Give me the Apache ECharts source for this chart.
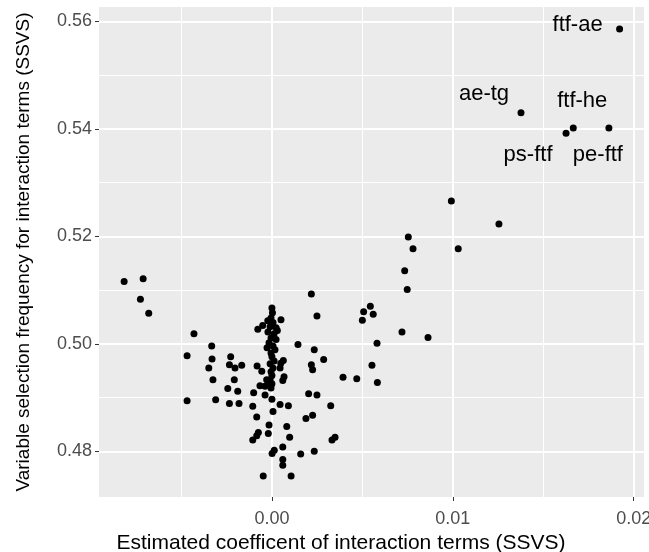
<!DOCTYPE html>
<html>
<head>
<meta charset="utf-8">
<script src="https://cdn.jsdelivr.net/npm/echarts@6/dist/echarts.min.js"></script>
<style>
  html, body { margin: 0; padding: 0; background: #fff; }
  #chart { width: 649px; height: 552px; }
</style>
</head>
<body>
<div id="chart"></div>
<script>
// estimated coefficient (x) and selection frequency (y)
var coefX = [
  -0.00817, -0.00712, -0.00727, -0.00681, -0.00431, -0.00469, -0.00469, -0.00333, -0.00331, -0.00349,
  -0.00326, -0.00311, -0.00228, -0.00235, -0.00204, -0.00167, -0.00208, -0.00244, -0.00189, -0.00235,
  -0.00182, -0.00101, -0.00106, -0.00084, -0.00075, -0.00084, -0.00106, -0.00020, -0.00016, 0.00001,
  0.00013, 0.00060, 0.00060, 0.00060, -0.00048, 0.00106, 0.00006, 0.00045, 0.00091, 0.00000,
  -0.00038, -0.00082, -0.00056, -0.00066, -0.00038, -0.00010, 0.00050, -0.00078, -0.00051, -0.00023,
  0.00030, 0.00063, 0.00045, 0.00067, 0.00060, 0.00082, 0.00098, 0.00780, 0.01030, 0.00734,
  0.00748, 0.00218, 0.00544, 0.00507, 0.00560, 0.00500, 0.00249, 0.00719, 0.00863, 0.00581,
  0.00144, 0.00234, 0.00286, 0.00218, 0.00225, 0.00553, 0.00393, 0.00469, 0.00583, 0.00203,
  0.00249, 0.00325, 0.00225, 0.00188, 0.00332, 0.00349, 0.00234, 0.00159, 0.00992, 0.01255,
  0.00754, 0.00049, -0.00029,
  0.00000, 0.00003, -0.00005, 0.00006, -0.00010, 0.00023, -0.00022, 0.00012, -0.00005, 0.00023,
  -0.00016, 0.00006, -0.00027, 0.00017, -0.00005, 0.00000, 0.00012, -0.00010, 0.00006, -0.00005,
  0.00000, -0.00010, 0.00000, -0.00005
];
var selFreq = [
  0.5116, 0.5121, 0.5083, 0.5057, 0.5019, 0.4978, 0.4894, 0.4996, 0.4972, 0.4955,
  0.4933, 0.4896, 0.4976, 0.4961, 0.4955, 0.4960, 0.4933, 0.4917, 0.4912, 0.4889,
  0.4889, 0.4909, 0.4884, 0.4864, 0.4835, 0.4829, 0.4821, 0.4833, 0.4849, 0.4796,
  0.4802, 0.4808, 0.4785, 0.4774, 0.4754, 0.4754, 0.4874, 0.4887, 0.4885, 0.4897,
  0.4905, 0.4959, 0.4949, 0.4922, 0.4921, 0.4927, 0.5045, 0.5027, 0.5034, 0.5043,
  0.5025, 0.4969, 0.4955, 0.4939, 0.4932, 0.4846, 0.4826, 0.5177, 0.5177, 0.5136,
  0.5101, 0.5093, 0.5070, 0.5060, 0.5055, 0.5044, 0.5052, 0.5022, 0.5012, 0.5001,
  0.4999, 0.4989, 0.4971, 0.4961, 0.4952, 0.4960, 0.4938, 0.4935, 0.4928, 0.4907,
  0.4905, 0.4885, 0.4867, 0.4861, 0.4821, 0.4826, 0.4800, 0.4795, 0.5266, 0.5223,
  0.5199, 0.4964, 0.4933,
  0.5067, 0.5058, 0.5048, 0.5040, 0.5032, 0.5030, 0.5022, 0.5019, 0.5011, 0.5008,
  0.5002, 0.4996, 0.4993, 0.4989, 0.4983, 0.4976, 0.4968, 0.4963, 0.4955, 0.4948,
  0.4941, 0.4933, 0.4926, 0.4918
];

// labelled interaction terms
var termNames = ['ftf-ae', 'ae-tg', 'ftf-he', 'ps-ftf', 'pe-ftf'];
var termX = [0.01922, 0.01377, 0.01666, 0.01626, 0.01863];
var termY = [0.5586, 0.5430, 0.5402, 0.5392, 0.5402];
var termOffsets = [[-42, -4], [-37, -19], [9, -27], [-38, 22], [-11, 27]];

var xTicks = [0, 0.01, 0.02];
var xMinor = [-0.005, 0.005, 0.015];
var yTicks = [0.48, 0.50, 0.52, 0.54, 0.56];
var yMinor = [0.49, 0.51, 0.53, 0.55];

var points = [];
for (var i = 0; i < coefX.length; i++) {
  points.push([coefX[i], selFreq[i]]);
}
var labelled = [];
for (var j = 0; j < termNames.length; j++) {
  labelled.push({
    value: [termX[j], termY[j]],
    name: termNames[j],
    label: { offset: termOffsets[j] }
  });
}

var FONT = '"Liberation Sans", Arial, sans-serif';
var xMin = -0.00956, xMax = 0.02057;
var yMin = 0.4715, yMax = 0.5627;

var myChart = echarts.init(document.getElementById('chart'));

var option = {
  animation: false,
  textStyle: { fontFamily: FONT },
  grid: {
    left: 99, right: 5, top: 7, bottom: 55,
    show: true,
    backgroundColor: '#EBEBEB',
    borderWidth: 0,
    outerBoundsMode: 'none'
  },
  xAxis: [
    {
      type: 'value',
      min: xMin, max: xMax,
      position: 'bottom',
      name: 'Estimated coefficent of interaction terms (SSVS)',
      nameLocation: 'middle',
      nameGap: 31,
      nameTextStyle: { fontSize: 21, color: '#000', fontFamily: FONT, padding: [0, 61, 0, 0] },
      axisLine: { show: false, onZero: false },
      axisTick: { show: true, length: 4, customValues: xTicks, lineStyle: { color: '#333', width: 1 } },
      axisLabel: {
        customValues: xTicks, margin: 13, fontSize: 18, color: '#4D4D4D', fontFamily: FONT,
        formatter: function (v) { return v.toFixed(2); }
      },
      splitLine: { show: true, lineStyle: { color: '#fff', width: 2 } }
    },
    {
      type: 'value',
      min: xMin, max: xMax,
      position: 'top',
      axisLine: { show: false, onZero: false },
      axisTick: { show: false, customValues: xMinor },
      axisLabel: { show: false },
      splitLine: { show: true, lineStyle: { color: '#fff', width: 1 } }
    }
  ],
  yAxis: [
    {
      type: 'value',
      min: yMin, max: yMax,
      position: 'left',
      name: 'Variable selection frequency for interaction terms (SSVS)',
      nameLocation: 'middle',
      nameGap: 66,
      nameTextStyle: { fontSize: 19, color: '#000', fontFamily: FONT },
      axisLine: { show: false, onZero: false },
      axisTick: { show: true, length: 4, customValues: yTicks, lineStyle: { color: '#333', width: 1 } },
      axisLabel: {
        customValues: yTicks, margin: 7, fontSize: 18, color: '#4D4D4D', fontFamily: FONT,
        formatter: function (v) { return v.toFixed(2); }
      },
      splitLine: { show: true, lineStyle: { color: '#fff', width: 2 } }
    },
    {
      type: 'value',
      min: yMin, max: yMax,
      position: 'right',
      axisLine: { show: false, onZero: false },
      axisTick: { show: false, customValues: yMinor },
      axisLabel: { show: false },
      splitLine: { show: true, lineStyle: { color: '#fff', width: 1 } }
    }
  ],
  series: [
    {
      type: 'scatter',
      xAxisIndex: 0, yAxisIndex: 0,
      symbolSize: 7,
      itemStyle: { color: '#000', opacity: 1 },
      data: points
    },
    {
      type: 'scatter',
      xAxisIndex: 0, yAxisIndex: 0,
      symbolSize: 7,
      itemStyle: { color: '#000', opacity: 1 },
      label: {
        show: true,
        position: 'inside',
        formatter: '{b}',
        fontSize: 22,
        color: '#000',
        fontFamily: FONT
      },
      data: labelled
    }
  ]
};

myChart.setOption(option);
</script>
</body>
</html>
